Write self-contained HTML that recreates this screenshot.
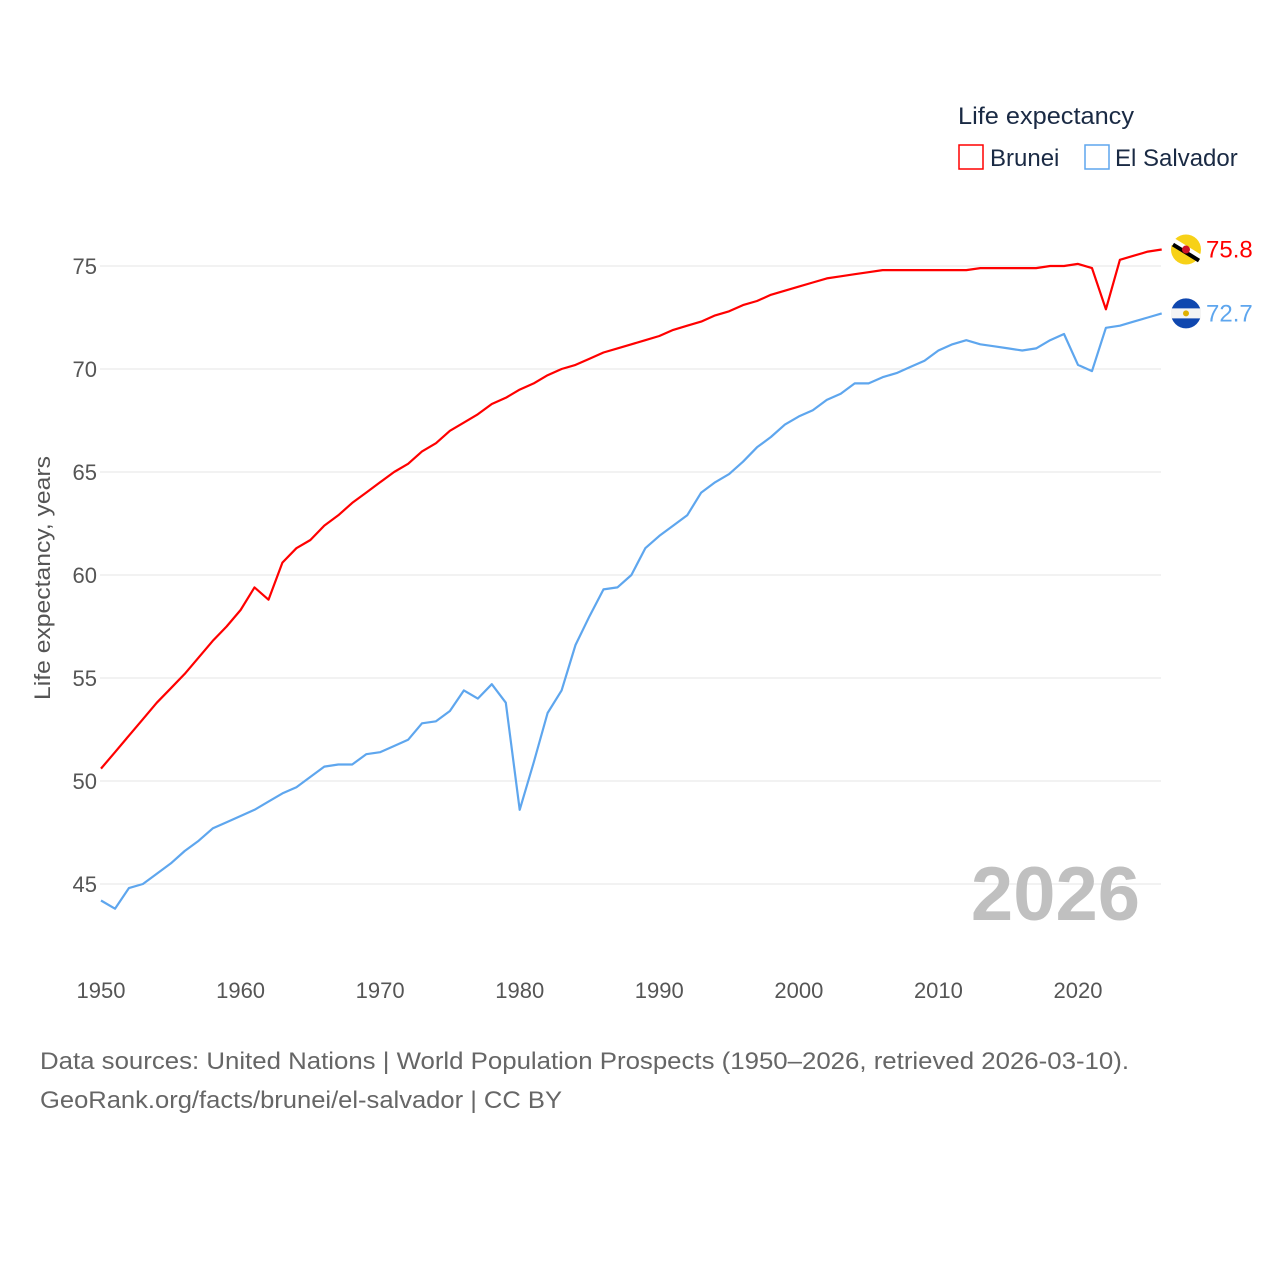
<!DOCTYPE html>
<html><head><meta charset="utf-8"><style>
body{margin:0;background:#fff;font-family:"Liberation Sans",sans-serif}
svg text{font-family:"Liberation Sans",sans-serif}
</style></head><body>
<svg id="chart" width="1280" height="1280" viewBox="0 0 1280 1280">
<g id="grid"></g>
<g id="yticks"></g>
<g id="xticks"></g>
<text x="50" y="578" transform="rotate(-90 50 578)" text-anchor="middle" font-size="22" fill="#555" textLength="244" lengthAdjust="spacingAndGlyphs">Life expectancy, years</text>
<text x="1140" y="920" text-anchor="end" font-size="76" font-weight="bold" fill="#c0c0c0">2026</text>
<g id="series"></g>
<g>
<text x="958" y="124" font-size="24" fill="#1a2a44" textLength="176" lengthAdjust="spacingAndGlyphs">Life expectancy</text>
<g><rect x="959" y="145" width="24" height="24" fill="none" stroke="#ff0000" stroke-width="1.5"/><text x="990" y="166" font-size="24" fill="#1a2a44">Brunei</text></g>
<g><rect x="1085" y="145" width="24" height="24" fill="none" stroke="#5ea6ee" stroke-width="1.5"/><text x="1115" y="166" font-size="24" fill="#1a2a44">El Salvador</text></g>
</g>
<text x="40" y="1069" font-size="24" fill="#666" textLength="1089" lengthAdjust="spacingAndGlyphs">Data sources: United Nations | World Population Prospects (1950–2026, retrieved 2026-03-10).</text>
<text x="40" y="1108" font-size="24" fill="#666" textLength="522" lengthAdjust="spacingAndGlyphs">GeoRank.org/facts/brunei/el-salvador | CC BY</text>
</svg>
<script>
const years = [];
for (let y = 1950; y <= 2026; y++) years.push(y);
const brunei = [50.6,51.4,52.2,53.0,53.8,54.5,55.2,56.0,56.8,57.5,58.3,59.4,58.8,60.6,61.3,61.7,62.4,62.9,63.5,64.0,64.5,65.0,65.4,66.0,66.4,67.0,67.4,67.8,68.3,68.6,69.0,69.3,69.7,70.0,70.2,70.5,70.8,71.0,71.2,71.4,71.6,71.9,72.1,72.3,72.6,72.8,73.1,73.3,73.6,73.8,74.0,74.2,74.4,74.5,74.6,74.7,74.8,74.8,74.8,74.8,74.8,74.8,74.8,74.9,74.9,74.9,74.9,74.9,75.0,75.0,75.1,74.9,72.9,75.3,75.5,75.7,75.8];
const elSalvador = [44.2,43.8,44.8,45.0,45.5,46.0,46.6,47.1,47.7,48.0,48.3,48.6,49.0,49.4,49.7,50.2,50.7,50.8,50.8,51.3,51.4,51.7,52.0,52.8,52.9,53.4,54.4,54.0,54.7,53.8,48.6,50.9,53.3,54.4,56.6,58.0,59.3,59.4,60.0,61.3,61.9,62.4,62.9,64.0,64.5,64.9,65.5,66.2,66.7,67.3,67.7,68.0,68.5,68.8,69.3,69.3,69.6,69.8,70.1,70.4,70.9,71.2,71.4,71.2,71.1,71.0,70.9,71.0,71.4,71.7,70.2,69.9,72.0,72.1,72.3,72.5,72.7];
const yTicks = [45,50,55,60,65,70,75];
const xTicks = [1950,1960,1970,1980,1990,2000,2010,2020];

const NS = "http://www.w3.org/2000/svg";
const xs = y => 101 + (y - 1950) * (977 / 70);
const ys = v => 266 + (75 - v) * 20.6;
function mk(tag, attrs, parent){const e=document.createElementNS(NS,tag);for(const k in attrs)e.setAttribute(k,attrs[k]);parent.appendChild(e);return e;}
const grid=document.getElementById('grid'), yg=document.getElementById('yticks'), xg=document.getElementById('xticks'), sg=document.getElementById('series');
yTicks.forEach(t=>{
  const l=mk('line',{x1:100,x2:1161,y1:ys(t),y2:ys(t),stroke:'#e6e6e6','stroke-width':1},grid);
  
  
  const tx=mk('text',{x:97,y:ys(t)+8,'text-anchor':'end','font-size':22,fill:'#555'},yg);
  tx.textContent=t;
  
  
});
xTicks.forEach(t=>{
  const tx=mk('text',{x:xs(t),y:998,'text-anchor':'middle','font-size':22,fill:'#555'},xg);
  tx.textContent=t;
  
  
});
function series(vals,color,name){
  const d=vals.map((v,i)=>(i?'L':'M')+xs(years[i]).toFixed(1)+','+ys(v).toFixed(1)).join(' ');
  const p=mk('path',{d:d,fill:'none',stroke:color,'stroke-width':2.2,'stroke-linejoin':'round'},sg);
  
  
  const last=vals[vals.length-1], ly=ys(last);
  const lab=mk('text',{x:1206,y:ly+8,'font-size':24,fill:color},sg);
  lab.textContent=last.toFixed(1);
  
  
  return ly;
}
const by=series(brunei,'#ff0000','brunei');
const ey=series(elSalvador,'#5ea6ee','el-salvador');
const fb=mk('g',{},sg);


mk('circle',{cx:1186,cy:by,r:15,fill:'#f7d117'},fb);
mk('line',{x1:1173,y1:by-8,x2:1199,y2:by+8,stroke:'#fff','stroke-width':7},fb);
mk('line',{x1:1173,y1:by-5,x2:1199,y2:by+11,stroke:'#000','stroke-width':4},fb);
mk('circle',{cx:1186,cy:by,r:4,fill:'#cf1126'},fb);
const fe=mk('g',{},sg);


mk('circle',{cx:1186,cy:ey,r:15,fill:'#0f47af'},fe);
mk('rect',{x:1171,y:ey-5,width:30,height:10,fill:'#f4f4f4'},fe);
mk('circle',{cx:1186,cy:ey,r:3,fill:'#e0b000'},fe);
</script>
</body></html>
